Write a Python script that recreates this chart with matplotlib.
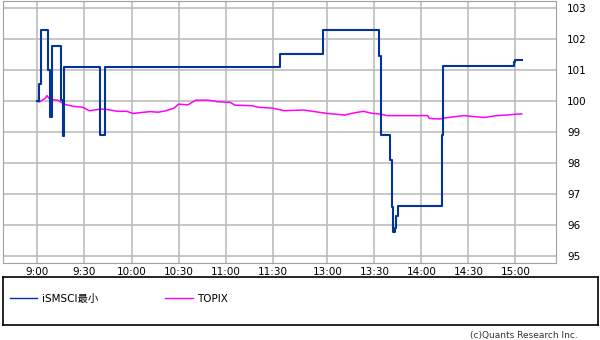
import matplotlib
matplotlib.use('Agg')
import matplotlib.pyplot as plt

plt.rcParams['font.family'] = ['DejaVu Sans', 'Noto Sans CJK JP']

# iSMSCI最小 : step changes (time, price index)
ism_times = ['9:00', '9:01', '9:02', '9:07', '9:08', '9:09', '9:15', '9:16', '9:17',
             '9:40', '9:43', '12:30', '12:57', '13:33', '13:34', '13:40', '13:41',
             '13:42', '13:43', '13:44', '13:45', '14:13', '14:14', '14:59', '15:00', '15:04']
ism_values = [100.0, 100.55, 102.3, 101.0, 99.5, 101.78, 100.05, 98.87, 101.12,
              98.89, 101.12, 101.51, 102.3, 101.46, 98.89, 98.1, 96.56,
              95.76, 95.88, 96.28, 96.6, 98.89, 101.13, 101.25, 101.33, 101.33]

# TOPIX
tpx_times = ['9:00', '9:01', '9:05', '9:06', '9:08', '9:13', '9:17', '9:23', '9:29', '9:33',
             '9:36', '9:40', '9:43', '9:51', '9:57', '10:01', '10:06', '10:12', '10:17',
             '10:22', '10:27', '10:30', '10:36', '10:41', '10:49', '10:55', '11:03', '11:06',
             '11:17', '11:21', '11:30', '12:30', '12:32', '12:45', '13:00', '13:11', '13:16',
             '13:23', '13:28', '13:34', '13:38', '13:52', '14:04', '14:05', '14:12', '14:14',
             '14:27', '14:40', '14:48', '14:55', '15:01', '15:04']
tpx_values = [100.0, 99.97, 100.09, 100.18, 100.05, 100.03, 99.9, 99.83, 99.8, 99.69,
              99.71, 99.74, 99.74, 99.67, 99.67, 99.6, 99.63, 99.66, 99.64,
              99.69, 99.77, 99.9, 99.88, 100.03, 100.03, 99.98, 99.96, 99.87,
              99.85, 99.8, 99.77, 99.72, 99.69, 99.71, 99.6, 99.55, 99.61,
              99.67, 99.61, 99.58, 99.53, 99.53, 99.53, 99.44, 99.42, 99.45,
              99.53, 99.47, 99.53, 99.55, 99.58, 99.58]

tick_labels = ['9:00', '9:30', '10:00', '10:30', '11:00', '11:30',
               '13:00', '13:30', '14:00', '14:30', '15:00']
y_ticks = [95, 96, 97, 98, 99, 100, 101, 102, 103]


def to_x(t):
    # morning session minutes, afternoon appended after a short gap
    h, m = t.split(':')
    mins = int(h) * 60 + int(m)
    if mins <= 690:
        return mins - 540
    return mins - 750 + 155


fig = plt.figure(figsize=(6, 3.4), dpi=100)
ax = fig.add_axes([0.005, 0.2265, 0.922, 0.7705])

ax.plot([to_x(t) for t in ism_times], ism_values, color='#00339c', lw=1.5,
        drawstyle='steps-post', label='iSMSCI最小', zorder=3)
ax.plot([to_x(t) for t in tpx_times], tpx_values, color='#ff00ff', lw=1.1,
        label='TOPIX', zorder=2)

ax.set_xlim(-22, 331)
ax.set_ylim(94.76, 103.24)
ax.set_xticks([to_x(t) for t in tick_labels])
ax.set_xticklabels(tick_labels)
ax.set_yticks(y_ticks)
ax.yaxis.tick_right()
ax.tick_params(length=0, labelsize=7.5, pad=3)
ax.tick_params(axis='y', pad=8)
ax.grid(True, color='#bdbdbd', lw=1.2)
ax.set_axisbelow(True)
for s in ax.spines.values():
    s.set_color('#a0a0a0')

# legend box
lax = fig.add_axes([0.005, 0.044, 0.991, 0.140])
lax.set_xticks([])
lax.set_yticks([])
for s in lax.spines.values():
    s.set_color('black')
    s.set_linewidth(1.2)
h, l = ax.get_legend_handles_labels()
leg = lax.legend(h, l, loc='center left', bbox_to_anchor=(0.0, 0.55), ncol=2,
                 frameon=False, fontsize=7.5, handlelength=2.6, handletextpad=0.4,
                 columnspacing=6.5, borderaxespad=0.3)
for ln in leg.get_lines():
    ln.set_linewidth(1.0)

fig.text(0.963, 0.012, '(c)Quants Research Inc.', ha='right', va='center',
         fontsize=6.5, color='#333333')

fig.savefig('out.png', dpi=100)
